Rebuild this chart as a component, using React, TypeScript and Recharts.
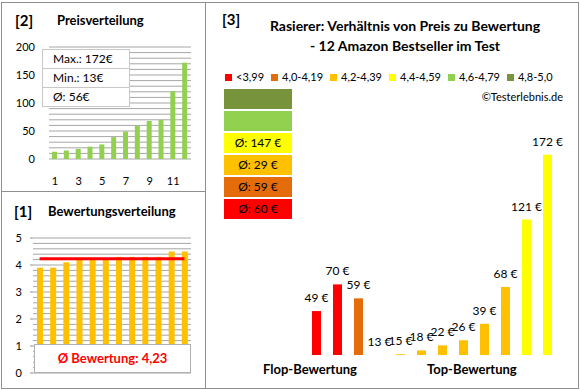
import React from "react";
import {
  Bar,
  BarChart,
  CartesianGrid,
  Cell,
  ComposedChart,
  LabelList,
  Line,
  XAxis,
  YAxis,
} from "recharts";

// [2] Preisverteilung
const priceRanks = ["1", "2", "3", "4", "5", "6", "7", "8", "9", "10", "11", "12"];
const sortedPrices = [13, 15, 18, 22, 26, 39, 49, 59, 68, 70, 121, 172];
const priceTicks = [0, 10, 20, 30, 40, 50, 60, 70, 80, 90, 100, 110, 120, 130, 140, 150, 160, 170, 180, 190, 200];

// [1] Bewertungsverteilung
const sortedRatings = [3.9, 3.9, 4.1, 4.2, 4.2, 4.2, 4.3, 4.3, 4.3, 4.3, 4.5, 4.5];
const ratingAverage = 4.23;
const ratingTicks = [0, 0.2, 0.4, 0.6, 0.8, 1, 1.2, 1.4, 1.6, 1.8, 2, 2.2, 2.4, 2.6, 2.8, 3, 3.2, 3.4, 3.6, 3.8, 4, 4.2, 4.4, 4.6, 4.8, 5];

// [3] Preis zu Bewertung
const productPrices = [49, 70, 59, 13, 15, 18, 22, 26, 39, 68, 121, 172];
const productClasses = [0, 0, 1, 2, 2, 2, 2, 2, 2, 2, 3, 3];
const classLabels = ["<3,99", "4,0-4,19", "4,2-4,39", "4,4-4,59", "4,6-4,79", "4,8-5,0"];
const classColors = ["#FF0000", "#E46C0A", "#FFC000", "#FFFF00", "#92D050", "#77933C"];
const classAverages = [60, 59, 29, 147, null, null];

const FONT = "Lato, 'Open Sans', sans-serif";
const BORDER = "#8f8f8f";
const GRID = "#a6a6a6";

const priceData = priceRanks.map((rank, i) => ({ rank, price: sortedPrices[i] }));
const ratingData = priceRanks.map((rank, i) => ({ rank, rating: sortedRatings[i], avg: ratingAverage }));
const productData = productPrices.map((price, i) => ({ id: i, price, cls: productClasses[i] }));
const stackRow = [Object.fromEntries(classColors.map((_, i) => ["s" + i, 1]))];

const abs = (left: number, top: number, extra: React.CSSProperties = {}): React.CSSProperties => ({
  position: "absolute",
  left,
  top,
  ...extra,
});

function PriceLabel(props: any) {
  const { x, y, width, height, value } = props;
  const top = Math.min(y, y + height);
  return (
    <text x={x + width / 2} y={top - 9} textAnchor="middle" fontSize={12} fill="#000" fontFamily={FONT}>
      {value} €
    </text>
  );
}

// whole ratings get a label and a small outside tick mark
function RatingTick(props: any) {
  const { x, y, payload } = props;
  const v = Number(payload.value);
  if (Math.abs(v - Math.round(v)) > 1e-6) return null;
  return (
    <g>
      <line x1={x + 8} x2={x + 11} y1={y} y2={y} stroke={BORDER} />
      <text x={x} y={y + 4} textAnchor="end" fontSize={11} fill="#000" fontFamily={FONT}>
        {String(Math.round(v))}
      </text>
    </g>
  );
}

function PriceChart() {
  return (
    <div style={abs(0, 0)}>
      <BarChart width={200} height={190} data={priceData} margin={{ top: 47, right: 9, bottom: 9, left: 0 }}>
        <CartesianGrid vertical={false} stroke={GRID} />
        <XAxis
          dataKey="rank"
          height={22}
          interval={1}
          tickLine={false}
          axisLine={false}
          tickMargin={12}
          tick={{ fontSize: 11, fill: "#000", fontFamily: FONT }}
        />
        <YAxis
          width={49}
          domain={[0, 200]}
          ticks={priceTicks}
          interval={0}
          tickLine={false}
          axisLine={false}
          tickMargin={8}
          tickFormatter={(v: number) => (v % 50 === 0 ? String(v) : "")}
          tick={{ fontSize: 11, fill: "#000", fontFamily: FONT }}
        />
        <Bar dataKey="price" fill="#92D050" barSize={5} isAnimationActive={false} />
      </BarChart>
    </div>
  );
}

function RatingChart() {
  return (
    <div style={abs(0, 191)}>
      <ComposedChart width={200} height={197} data={ratingData} margin={{ top: 47, right: 9, bottom: 15, left: 0 }}>
        <CartesianGrid vertical={false} stroke={GRID} />
        <XAxis dataKey="rank" hide />
        <YAxis
          width={33}
          type="number"
          domain={[0, 5]}
          ticks={ratingTicks}
          interval={0}
          tickLine={false}
          axisLine={false}
          tickSize={4}
          tickMargin={7}
          tick={RatingTick}
        />
        <Bar dataKey="rating" fill="#FFC000" barSize={6} isAnimationActive={false} />
        <Line dataKey="avg" stroke="#FF0000" strokeWidth={3} dot={false} isAnimationActive={false} />
      </ComposedChart>
    </div>
  );
}

function ProductChart() {
  return (
    <div style={abs(205, 0)}>
      <BarChart width={373} height={388} data={productData} margin={{ top: 5, right: 20, bottom: 33, left: 101 }}>
        <XAxis dataKey="id" hide />
        <YAxis hide domain={[14.4, 290]} allowDataOverflow />
        <Bar dataKey="price" barSize={9} isAnimationActive={false}>
          {productData.map((d) => (
            <Cell key={d.id} fill={classColors[d.cls]} />
          ))}
          <LabelList dataKey="price" content={PriceLabel} />
        </Bar>
      </BarChart>
    </div>
  );
}

function AverageBoxes() {
  return (
    <div style={abs(223, 88)}>
      <BarChart width={70} height={132} data={stackRow} margin={{ top: 0, right: 0, bottom: 0, left: 0 }} barCategoryGap={0}>
        <XAxis hide />
        <YAxis hide domain={[0, 6]} />
        {classColors.map((color, i) => (
          <Bar key={i} dataKey={"s" + i} stackId="a" fill={color} stroke="#fff" strokeWidth={2} isAnimationActive={false}>
            <LabelList
              dataKey={"s" + i}
              content={(p: any) =>
                classAverages[i] == null ? null : (
                  <text
                    x={p.x + p.width / 2}
                    y={p.y + p.height / 2 + 4}
                    textAnchor="middle"
                    fontSize={12}
                    fill="#000"
                    fontFamily={FONT}
                  >
                    Ø: {classAverages[i]} €
                  </text>
                )
              }
            />
          </Bar>
        ))}
      </BarChart>
    </div>
  );
}

export default function App() {
  const statRow: React.CSSProperties = {
    height: 18,
    lineHeight: "18px",
    paddingLeft: 10,
    borderTop: "1px solid #c8c8c8",
  };
  return (
    <div
      style={{
        position: "absolute",
        left: 0,
        top: 0,
        width: 580,
        height: 390,
        background: "#fff",
        fontFamily: FONT,
        color: "#000",
      }}
    >
      <div style={abs(1, 2, { width: 578, height: 387, border: `1px solid ${BORDER}`, boxSizing: "border-box" })} />
      <div style={abs(205, 2, { width: 1, height: 387, background: BORDER })} />
      <div style={abs(1, 191, { width: 205, height: 1, background: BORDER })} />

      <PriceChart />
      <RatingChart />
      <ProductChart />
      <AverageBoxes />

      {/* panel 2 */}
      <div style={abs(15, 11, { fontSize: 15, fontWeight: 700 })}>[2]</div>
      <div style={abs(57, 12, { fontSize: 13, fontWeight: 700 })}>Preisverteilung</div>
      <div
        style={abs(42, 49, {
          width: 88,
          background: "#fff",
          border: "1px solid #c8c8c8",
          boxSizing: "border-box",
          fontSize: 12,
        })}
      >
        <div style={{ ...statRow, borderTop: "none" }}>Max.: 172€</div>
        <div style={statRow}>Min.: 13€</div>
        <div style={statRow}>Ø: 56€</div>
      </div>

      {/* panel 1 */}
      <div style={abs(14, 202, { fontSize: 15, fontWeight: 700 })}>[1]</div>
      <div style={abs(48, 203, { fontSize: 13, fontWeight: 700 })}>Bewertungsverteilung</div>
      <div
        style={abs(34, 344, {
          width: 157,
          height: 29,
          background: "#fff",
          border: "1px solid #b0b0b0",
          boxSizing: "border-box",
          textAlign: "center",
          lineHeight: "27px",
          fontSize: 13,
          fontWeight: 700,
          color: "#FF0000",
        })}
      >
        Ø Bewertung: 4,23
      </div>

      {/* panel 3 */}
      <div style={abs(222, 10, { fontSize: 15, fontWeight: 700 })}>[3]</div>
      <div style={abs(210, 16, { width: 390, textAlign: "center", fontSize: 14, fontWeight: 700, lineHeight: "20px" })}>
        Rasierer: Verhältnis von Preis zu Bewertung
        <br />- 12 Amazon Bestseller im Test
      </div>
      <div style={abs(225, 70, { display: "flex", fontSize: 11, lineHeight: "14px" })}>
        {classLabels.map((label, i) => (
          <div key={label} style={{ display: "flex", alignItems: "center", marginRight: 7 }}>
            <span style={{ width: 7, height: 7, background: classColors[i], marginRight: 4, display: "inline-block" }} />
            {label}
          </div>
        ))}
      </div>
      <div style={abs(420, 90, { width: 143, textAlign: "right", fontSize: 11, lineHeight: "14px" })}>©Testerlebnis.de</div>
      <div style={abs(263, 361, { fontSize: 13, fontWeight: 700 })}>Flop-Bewertung</div>
      <div style={abs(427, 361, { fontSize: 13, fontWeight: 700 })}>Top-Bewertung</div>
    </div>
  );
}
